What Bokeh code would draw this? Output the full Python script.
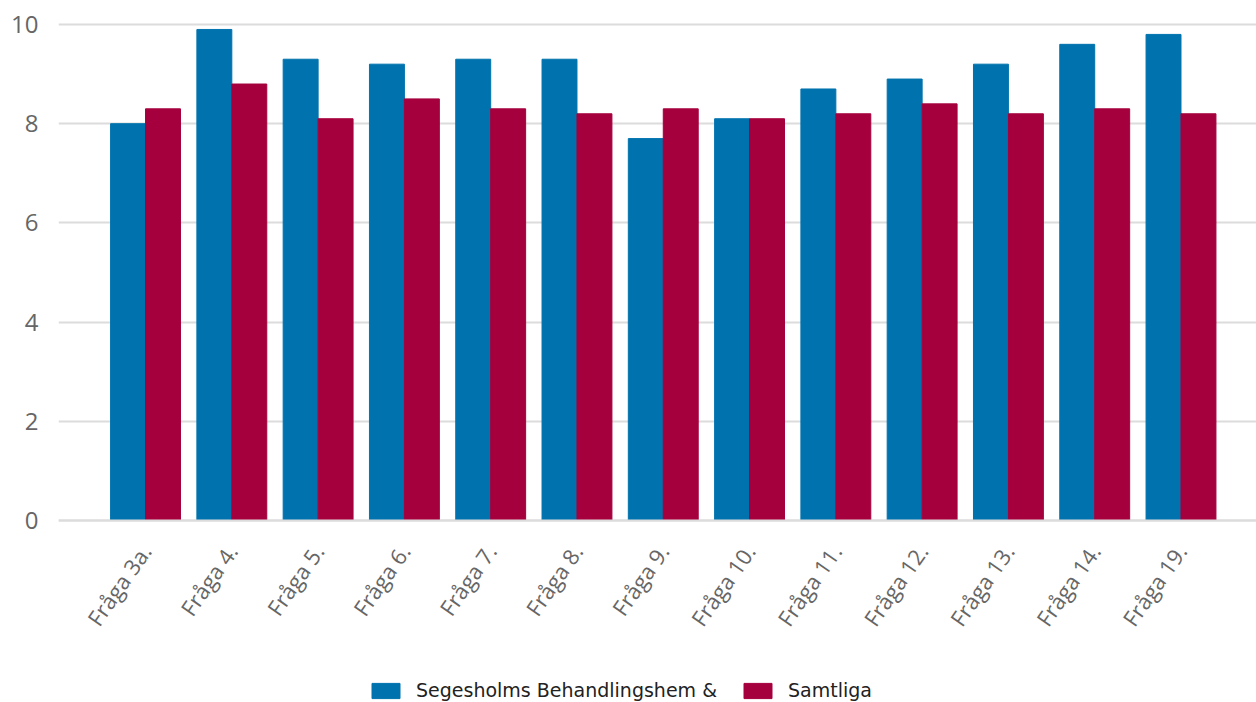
import numpy as np
from bokeh.plotting import figure
from bokeh.models import ColumnDataSource, Range1d, FixedTicker, Legend, LegendItem
from bokeh.embed import file_html
from bokeh.resources import INLINE

categories = ["Fråga 3a.", "Fråga 4.", "Fråga 5.", "Fråga 6.", "Fråga 7.", "Fråga 8.",
              "Fråga 9.", "Fråga 10.", "Fråga 11.", "Fråga 12.", "Fråga 13.", "Fråga 14.", "Fråga 19."]
segesholms = [8.0, 9.9, 9.3, 9.2, 9.3, 9.3, 7.7, 8.1, 8.7, 8.9, 9.2, 9.6, 9.8]
samtliga = [8.3, 8.8, 8.1, 8.5, 8.3, 8.2, 8.3, 8.1, 8.2, 8.4, 8.2, 8.3, 8.2]
series_names = ["Segesholms Behandlingshem &", "Samtliga"]
y_ticks = [0, 2, 4, 6, 8, 10]

BLUE = "#0073ae"
RED = "#a5003d"
GRID = "#dcdcdc"
TXT = "#666666"

pos = np.arange(len(categories))
bw = 0.405
src = ColumnDataSource(dict(
    x1=pos - bw / 2, x2=pos + bw / 2,
    a=segesholms, b=samtliga,
))

p = figure(width=1256, height=702, output_backend="svg", toolbar_location=None,
           x_range=Range1d(-1.0087, 12.875), y_range=Range1d(-3.669, 10.2016),
           min_border_top=14, min_border_left=58, min_border_right=0, min_border_bottom=0)
p.outline_line_color = None
p.background_fill_color = "white"

r1 = p.vbar(x="x1", top="a", bottom=0, width=bw, source=src, fill_color=BLUE, line_color=BLUE)
r2 = p.vbar(x="x2", top="b", bottom=0, width=bw, source=src, fill_color=RED, line_color=RED)

p.xgrid.visible = False
p.ygrid.grid_line_color = GRID
p.ygrid.grid_line_width = 2
p.yaxis.ticker = FixedTicker(ticks=y_ticks)
p.yaxis.axis_line_color = None
p.yaxis.major_tick_line_color = None
p.yaxis.minor_tick_line_color = None
p.yaxis.major_label_text_font = "Open Sans"
p.yaxis.major_label_text_font_size = "24px"
p.yaxis.major_label_text_color = TXT
p.yaxis.major_label_standoff = 14

p.xaxis.fixed_location = 0
p.xaxis.ticker = FixedTicker(ticks=list(range(len(categories))))
p.xaxis.major_label_overrides = {i: c for i, c in enumerate(categories)}
p.xaxis.major_label_orientation = 0.96
p.xaxis.axis_line_color = GRID
p.xaxis.axis_line_width = 2
p.xaxis.major_tick_line_color = None
p.xaxis.minor_tick_line_color = None
p.xaxis.major_label_text_font = "Open Sans"
p.xaxis.major_label_text_font_size = "22px"
p.xaxis.major_label_text_color = TXT
p.xaxis.major_label_standoff = 20

legend = Legend(items=[LegendItem(label=series_names[0], renderers=[r1]),
                       LegendItem(label=series_names[1], renderers=[r2])],
                orientation="horizontal", location=(310, 1))
legend.glyph_width = 35
legend.glyph_height = 19
legend.label_text_font = "DejaVu Sans"
legend.label_text_font_size = "19px"
legend.label_text_color = "#222222"
legend.spacing = 23
legend.label_standoff = 13
legend.border_line_color = None
legend.background_fill_alpha = 0
legend.padding = 0
legend.margin = 0
p.add_layout(legend)

open("out.html", "w").write(file_html(p, INLINE))
